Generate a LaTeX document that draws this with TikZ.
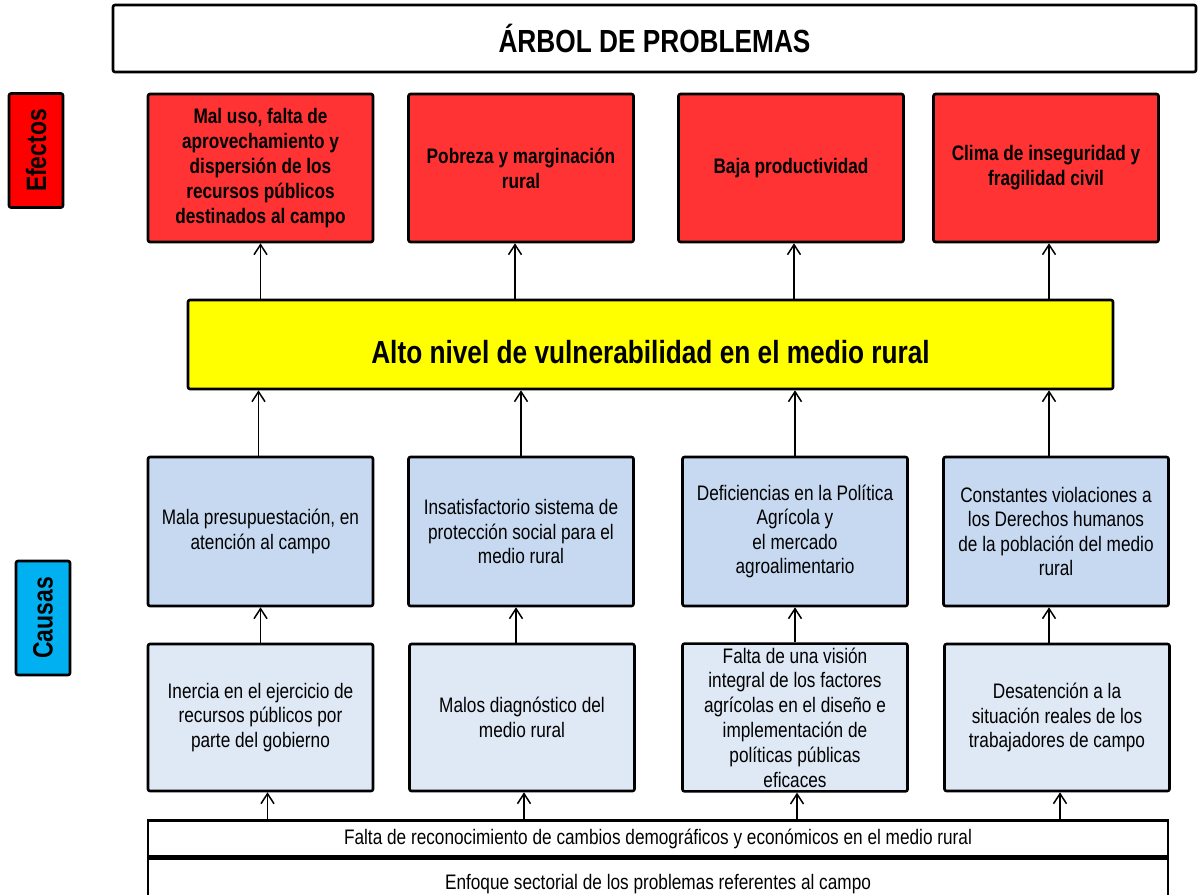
\documentclass[tikz,border=0pt]{standalone}
\usepackage{fontspec}
\setmainfont{Liberation Sans}[FakeStretch=0.82]
\usetikzlibrary{arrows.meta}

\definecolor{rojoefecto}{HTML}{FF3333}
\definecolor{rojoetiqueta}{HTML}{FF0000}
\definecolor{azuletiqueta}{HTML}{00B0F0}
\definecolor{azulcausa}{HTML}{C6D9F1}
\definecolor{azulraiz}{HTML}{DFE8F5}
\definecolor{amarillo}{HTML}{FFFF00}

\begin{document}
\begin{tikzpicture}[
  x=0.5pt, y=-0.5pt, % one unit = one pixel of the layout
  font=\fontsize{10.5}{12.25}\selectfont,
  >={Straight Barb[length=5pt,width=6.5pt]},
  caja/.style    ={draw,line width=1.3pt,rounded corners=1pt,align=center,inner sep=2pt},
  titulo/.style  ={caja,fill=white,minimum width=541.5pt,minimum height=33.5pt,font=\bfseries\fontsize{16}{19}\selectfont},
  etiqueta/.style={caja,rotate=90,minimum width=57pt,minimum height=27pt,font=\bfseries\fontsize{14}{16}\selectfont},
  efecto/.style  ={caja,fill=rojoefecto,minimum width=112.5pt,minimum height=74pt,font=\bfseries\fontsize{10.5}{12.5}\selectfont},
  central/.style ={caja,fill=amarillo,minimum width=462.5pt,minimum height=44.5pt,font=\bfseries\fontsize{16}{19}\selectfont},
  causa/.style   ={caja,fill=azulcausa,minimum width=112.5pt,minimum height=74.5pt},
  raiz/.style    ={caja,fill=azulraiz,minimum width=112.5pt,minimum height=73.5pt},
  barra/.style   ={caja,fill=white,rounded corners=0pt,minimum width=510pt,minimum height=18pt},
  flecha/.style  ={->,line width=0.75pt}
]
\useasboundingbox (0,0) rectangle (1198,894);

% ==================================================
% TITLE + SIDE LABELS
% ==================================================
\node[titulo] (titulo) at (654.5,38.5) {ÁRBOL DE PROBLEMAS};

\node[etiqueta, fill=rojoetiqueta] (efectos) at (36,150.5) {Efectos};
\node[etiqueta, fill=azuletiqueta] (causas)  at (43,618)   {Causas};

% ==================================================
% EFFECTS ROW
% ==================================================
\node[efecto] (efecto1) at (260.5,168) {Mal uso, falta de\\ aprovechamiento y\\ dispersión  de los\\ recursos públicos\\ destinados al campo};
\node[efecto] (efecto2) at (521,168)   {Pobreza y marginación\\ rural};
\node[efecto] (efecto3) at (791,168)   {Baja productividad};
\node[efecto] (efecto4) at (1046,168)  {Clima de inseguridad y\\ fragilidad civil};

% ==================================================
% CENTRAL PROBLEM
% ==================================================
\node[central] (problema) at (650.5,344.5) {\raisebox{-9.5pt}[0pt][0pt]{Alto nivel de vulnerabilidad en el medio rural}};

% ==================================================
% CAUSES (two rows)
% ==================================================
\node[causa] (causa1) at (260.5,531.5) {Mala presupuestación, en\\ atención al campo};
\node[causa] (causa2) at (521,531.5)   {Insatisfactorio sistema de\\ protección social para el\\ medio rural};
\node[causa] (causa3) at (795,531.5)   {Deficiencias en la Política\\ Agrícola y\\ el mercado\\ agroalimentario};
\node[causa] (causa4) at (1056,531.5)  {Constantes violaciones a\\ los Derechos humanos\\ de la población del medio\\ rural};

\node[raiz] (raiz1) at (260.5,717.5) {Inercia en el ejercicio de\\ recursos públicos por\\ parte del gobierno};
\node[raiz] (raiz2) at (522,717.5)   {Malos diagnóstico del\\ medio rural};
\node[raiz, font=\fontsize{10.5}{12.4}\selectfont] (raiz3) at (795,717.5)
  {Falta de una visión\\ integral de los factores\\ agrícolas en el diseño e\\ implementación de\\ políticas públicas\\ eficaces};
\node[raiz] (raiz4) at (1057,717.5)  {Desatención a la\\ situación  reales de los\\ trabajadores de campo};

% ==================================================
% BOTTOM BARS (second one runs off the page)
% ==================================================
\node[barra, minimum height=25pt] (fondo) at (658,883.5) {\raisebox{-3pt}[0pt][0pt]{Enfoque sectorial de los problemas referentes al campo}};
\node[barra] (base) at (658,838.5) {Falta de reconocimiento de cambios demográficos y económicos en el medio rural};

% ==================================================
% CONNECTORS
% ==================================================
% problem -> effects
\draw[flecha] (problema.north -| efecto1.south) -- (efecto1.south);
\draw[flecha] ([xshift=-3pt]problema.north -| efecto2.south) -- ([xshift=-3pt]efecto2.south);
\draw[flecha] ([xshift=1.5pt]problema.north -| efecto3.south) -- ([xshift=1.5pt]efecto3.south);
\draw[flecha] ([xshift=1.5pt]problema.north -| efecto4.south) -- ([xshift=1.5pt]efecto4.south);

% causes -> problem
\draw[flecha] ([xshift=-1pt]causa1.north) -- ([xshift=-1pt]causa1.north |- problema.south);
\draw[flecha] (causa2.north) -- (causa2.north |- problema.south);
\draw[flecha] (causa3.north) -- (causa3.north |- problema.south);
\draw[flecha] ([xshift=-3.5pt]causa4.north) -- ([xshift=-3.5pt]causa4.north |- problema.south);

% roots -> causes
\draw[flecha] (raiz1.north) -- (causa1.south);
\draw[flecha] ([xshift=-3pt]raiz2.north) -- ([xshift=-3pt]raiz2.north |- causa2.south);
\draw[flecha] (raiz3.north) -- (causa3.south);
\draw[flecha] ([xshift=-4pt]raiz4.north) -- ([xshift=-4pt]raiz4.north |- causa4.south);

% base -> roots
\draw[flecha] ([xshift=3.5pt]base.north -| raiz1.south) -- ([xshift=3.5pt]raiz1.south);
\draw[flecha] ([xshift=1pt]base.north -| raiz2.south) -- ([xshift=1pt]raiz2.south);
\draw[flecha] ([xshift=1pt]base.north -| raiz3.south) -- ([xshift=1pt]raiz3.south);
\draw[flecha] ([xshift=1.5pt]base.north -| raiz4.south) -- ([xshift=1.5pt]raiz4.south);

\end{tikzpicture}
\end{document}
